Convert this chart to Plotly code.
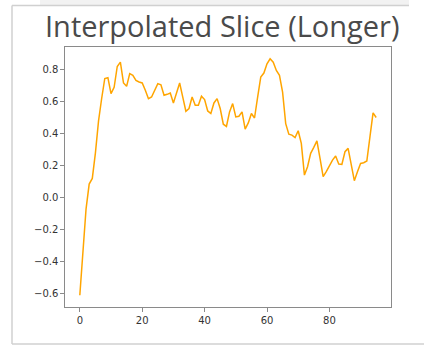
import plotly.graph_objects as go

x_vals = list(range(96))
y_vals = [
    -0.61, -0.35, -0.07, 0.085, 0.12, 0.28, 0.48, 0.62, 0.745, 0.75,
    0.65, 0.69, 0.82, 0.847, 0.717, 0.696, 0.775, 0.765, 0.733, 0.723,
    0.717, 0.671, 0.619, 0.629, 0.671, 0.713, 0.706, 0.64, 0.646, 0.654,
    0.592, 0.66, 0.717, 0.629, 0.54, 0.557, 0.629, 0.578, 0.578, 0.634,
    0.613, 0.542, 0.526, 0.592, 0.619, 0.557, 0.459, 0.445, 0.536, 0.588,
    0.505, 0.509, 0.536, 0.428, 0.467, 0.526, 0.498, 0.629, 0.754, 0.779,
    0.837, 0.868, 0.847, 0.795, 0.765, 0.66, 0.463, 0.397, 0.391, 0.376,
    0.418, 0.339, 0.141, 0.193, 0.277, 0.314, 0.355, 0.245, 0.131, 0.162,
    0.198, 0.235, 0.26, 0.21, 0.208, 0.287, 0.308, 0.214, 0.106, 0.162,
    0.214, 0.218, 0.229, 0.38, 0.53, 0.501,
]
title_text = "Interpolated Slice (Longer)"
x_ticks = [0, 20, 40, 60, 80]
y_ticks = [-0.6, -0.4, -0.2, 0.0, 0.2, 0.4, 0.6, 0.8]

W, H = 424, 347
L, R, T, B = 65, 391, 47, 307  # plot area in px

def px2paper_x(px):
    return (px - L) / (R - L)

def px2paper_y(py):
    return (B - py) / (B - T)

fig = go.Figure()
fig.add_trace(go.Scatter(
    x=x_vals, y=y_vals, mode="lines",
    line=dict(color="#FFA500", width=1.5),
    hoverinfo="skip",
))

ymin, ymax = min(y_vals), max(y_vals)
pad = 0.05 * (ymax - ymin)
tickfont = dict(family="DejaVu Sans", size=10, color="#333333")

fig.update_layout(
    width=W, height=H,
    margin=dict(l=L, r=W - R, t=T, b=H - B, pad=0),
    paper_bgcolor="white", plot_bgcolor="white",
    showlegend=False,
    font=dict(family="DejaVu Sans", size=10, color="#333333"),
    xaxis=dict(
        range=[-4.75, 99.75], tickvals=x_ticks, ticktext=[str(v) for v in x_ticks],
        showgrid=False, zeroline=False,
        showline=True, mirror=True, linecolor="#8a8a8a", linewidth=1.2,
        ticks="outside", ticklen=3.5, tickcolor="#8a8a8a", tickwidth=1,
        tickfont=tickfont,
    ),
    yaxis=dict(
        range=[ymin - pad, ymax + pad], tickvals=y_ticks,
        ticktext=[("\u2212" if v < 0 else "") + f"{abs(v):.1f}" for v in y_ticks],
        showgrid=False, zeroline=False,
        showline=True, mirror=True, linecolor="#8a8a8a", linewidth=1.2,
        ticks="outside", ticklen=3.5, tickcolor="#8a8a8a", tickwidth=1,
        tickfont=tickfont,
    ),
    shapes=[
        dict(type="rect", xref="paper", yref="paper",
             x0=px2paper_x(40), x1=px2paper_x(409), y0=px2paper_y(5), y1=px2paper_y(-2),
             line=dict(width=0), fillcolor="#f2f2f2", layer="below"),
        dict(type="line", xref="paper", yref="paper",
             x0=px2paper_x(12), x1=px2paper_x(409), y0=px2paper_y(5.5), y1=px2paper_y(5.5),
             line=dict(color="#d0d0d0", width=1.5)),
        dict(type="line", xref="paper", yref="paper",
             x0=px2paper_x(12), x1=px2paper_x(12), y0=px2paper_y(5.5), y1=px2paper_y(344),
             line=dict(color="#d0d0d0", width=1.5)),
        dict(type="line", xref="paper", yref="paper",
             x0=px2paper_x(12), x1=px2paper_x(430), y0=px2paper_y(344), y1=px2paper_y(344),
             line=dict(color="#d0d0d0", width=1.5)),
    ],
    annotations=[
        dict(text=title_text, xref="paper", yref="paper",
             x=px2paper_x(222.5), y=px2paper_y(25.5), xanchor="center", yanchor="middle",
             showarrow=False, font=dict(family="Open Sans", size=29, color="#4a4a4a")),
    ],
)

fig.write_html("out.html")
